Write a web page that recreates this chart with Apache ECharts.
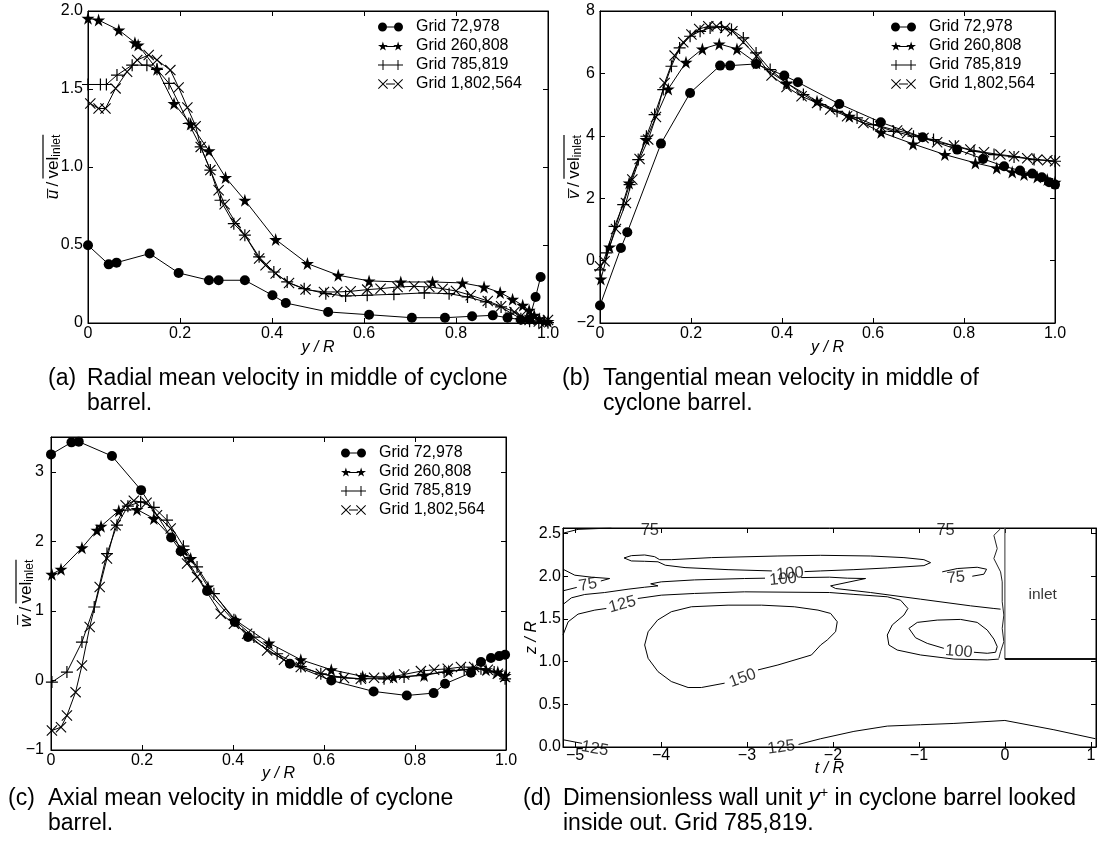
<!DOCTYPE html>
<html>
<head>
<meta charset="utf-8">
<script src="https://cdn.jsdelivr.net/npm/echarts@6/dist/echarts.min.js"></script>
<style>
html, body { margin: 0; background: #fff; }
#chart { width: 1106px; height: 848px; }
</style>
</head>
<body>
<div id="chart"></div>
<script>
// ---- (a) radial mean velocity, [y/R, u/vel]
const aGrid72978 = [[0,0.498],[0.045,0.376],[0.062,0.387],[0.134,0.445],[0.197,0.321],[0.263,0.274],[0.284,0.274],[0.341,0.274],[0.401,0.178],[0.43,0.128],[0.522,0.071],[0.611,0.053],[0.704,0.034],[0.776,0.034],[0.835,0.043],[0.88,0.049],[0.912,0.034],[0.941,0.021],[0.959,0.022],[0.973,0.167],[0.984,0.295]];
const aGrid260808 = [[0,1.953],[0.023,1.942],[0.067,1.878],[0.102,1.797],[0.109,1.782],[0.15,1.626],[0.187,1.407],[0.223,1.275],[0.263,1.104],[0.299,0.933],[0.341,0.787],[0.408,0.535],[0.477,0.381],[0.544,0.306],[0.611,0.27],[0.68,0.263],[0.749,0.263],[0.814,0.257],[0.861,0.231],[0.896,0.195],[0.923,0.152],[0.945,0.113],[0.959,0.081],[0.97,0.049],[0.981,0.028],[0.992,0.012],[1.0,0.01]];
const aGrid785819 = [[0,1.529],[0.027,1.529],[0.04,1.529],[0.063,1.589],[0.096,1.653],[0.128,1.653],[0.15,1.626],[0.176,1.536],[0.219,1.279],[0.245,1.129],[0.266,0.98],[0.288,0.787],[0.317,0.637],[0.341,0.563],[0.372,0.424],[0.404,0.327],[0.433,0.263],[0.47,0.22],[0.517,0.188],[0.56,0.173],[0.607,0.178],[0.665,0.184],[0.731,0.193],[0.785,0.188],[0.825,0.167],[0.865,0.135],[0.898,0.103],[0.919,0.064],[0.941,0.028],[0.96,0.012],[0.98,0.004],[1.0,0.002]];
const aGrid1802564 = [[0.005,1.407],[0.023,1.375],[0.038,1.375],[0.06,1.504],[0.085,1.611],[0.107,1.686],[0.132,1.718],[0.15,1.686],[0.179,1.621],[0.197,1.51],[0.216,1.382],[0.234,1.262],[0.245,1.129],[0.266,0.98],[0.284,0.851],[0.297,0.761],[0.321,0.642],[0.341,0.563],[0.372,0.413],[0.386,0.37],[0.408,0.317],[0.437,0.257],[0.473,0.214],[0.513,0.199],[0.542,0.199],[0.571,0.203],[0.607,0.214],[0.636,0.22],[0.673,0.231],[0.709,0.235],[0.742,0.231],[0.771,0.22],[0.8,0.205],[0.832,0.178],[0.869,0.141],[0.898,0.107],[0.927,0.071],[0.941,0.043],[0.96,0.02],[0.98,0.01],[1.0,0.02]];

// ---- (b) tangential mean velocity
const bGrid72978 = [[0,-1.44],[0.046,0.406],[0.06,0.908],[0.134,3.75],[0.198,5.374],[0.264,6.25],[0.286,6.25],[0.343,6.303],[0.405,5.93],[0.435,5.716],[0.526,5.02],[0.617,4.434],[0.709,3.953],[0.785,3.558],[0.842,3.259],[0.888,3.024],[0.923,2.885],[0.95,2.788],[0.971,2.671],[0.987,2.51],[1.0,2.436]];
const bGrid260808 = [[0.002,-0.588],[0.021,0.438],[0.064,2.489],[0.101,3.878],[0.15,5.502],[0.189,6.357],[0.225,6.784],[0.262,6.944],[0.301,6.784],[0.344,6.33],[0.41,5.694],[0.477,5.107],[0.548,4.626],[0.618,4.113],[0.688,3.739],[0.758,3.397],[0.825,3.13],[0.872,2.97],[0.906,2.842],[0.932,2.756],[0.961,2.682],[0.983,2.596],[1.0,2.511]];
const bGrid785819 = [[0,-0.3],[0.014,0.246],[0.032,1.1],[0.051,1.795],[0.065,2.436],[0.084,3.237],[0.102,3.985],[0.12,4.68],[0.139,5.48],[0.157,6.229],[0.175,6.816],[0.198,7.19],[0.22,7.35],[0.242,7.457],[0.267,7.49],[0.289,7.404],[0.315,7.137],[0.343,6.656],[0.374,6.122],[0.41,5.694],[0.447,5.32],[0.484,5.0],[0.521,4.786],[0.565,4.573],[0.601,4.359],[0.645,4.145],[0.689,3.985],[0.733,3.878],[0.781,3.665],[0.822,3.504],[0.866,3.397],[0.91,3.323],[0.954,3.237],[1.0,3.184]];
const bGrid1802564 = [[0,-0.18],[0.01,-0.02],[0.035,1.015],[0.057,1.848],[0.071,2.596],[0.087,3.259],[0.106,3.878],[0.123,4.605],[0.142,5.694],[0.164,6.57],[0.183,6.998],[0.201,7.244],[0.218,7.425],[0.238,7.51],[0.256,7.51],[0.275,7.457],[0.291,7.35],[0.315,6.998],[0.344,6.549],[0.377,5.93],[0.41,5.566],[0.443,5.267],[0.477,5.053],[0.506,4.84],[0.543,4.626],[0.579,4.412],[0.616,4.306],[0.653,4.167],[0.675,4.092],[0.711,3.932],[0.741,3.793],[0.778,3.686],[0.814,3.558],[0.844,3.472],[0.88,3.397],[0.91,3.344],[0.939,3.28],[0.961,3.237],[0.983,3.216],[1.0,3.184]];

// ---- (c) axial mean velocity
const cGrid72978 = [[0,3.25],[0.045,3.423],[0.061,3.433],[0.134,3.226],[0.198,2.736],[0.264,2.055],[0.285,1.858],[0.343,1.287],[0.404,0.84],[0.433,0.624],[0.525,0.24],[0.616,0.0],[0.709,-0.158],[0.782,-0.216],[0.841,-0.182],[0.866,-0.048],[0.923,0.11],[0.945,0.264],[0.967,0.322],[0.985,0.35],[0.998,0.37]];
const cGrid260808 = [[0.002,1.527],[0.022,1.599],[0.068,1.906],[0.101,2.16],[0.11,2.218],[0.149,2.439],[0.189,2.458],[0.226,2.328],[0.292,1.87],[0.307,1.752],[0.345,1.344],[0.406,0.864],[0.479,0.538],[0.549,0.298],[0.616,0.154],[0.685,0.058],[0.753,0.048],[0.82,0.072],[0.874,0.134],[0.927,0.168],[0.956,0.154],[0.982,0.12],[0.998,0.072]];
const cGrid785819 = [[0.002,-0.024],[0.035,0.12],[0.068,0.552],[0.095,1.056],[0.123,1.824],[0.145,2.232],[0.169,2.506],[0.197,2.568],[0.226,2.487],[0.255,2.304],[0.291,1.93],[0.321,1.632],[0.358,1.248],[0.402,0.874],[0.446,0.624],[0.497,0.384],[0.549,0.2],[0.593,0.096],[0.637,0.048],[0.681,0.024],[0.732,0.024],[0.776,0.048],[0.82,0.086],[0.864,0.12],[0.908,0.154],[0.945,0.168],[0.974,0.12],[0.998,0.024]];
const cGrid1802564 = [[0.002,-0.72],[0.022,-0.672],[0.035,-0.504],[0.054,-0.168],[0.068,0.216],[0.085,0.768],[0.107,1.344],[0.123,1.752],[0.142,2.232],[0.164,2.52],[0.182,2.583],[0.21,2.554],[0.233,2.376],[0.263,2.184],[0.299,1.68],[0.321,1.488],[0.373,0.96],[0.402,0.816],[0.431,0.672],[0.475,0.432],[0.512,0.298],[0.549,0.192],[0.593,0.096],[0.644,0.034],[0.681,0.024],[0.71,0.038],[0.74,0.038],[0.776,0.086],[0.813,0.134],[0.842,0.154],[0.872,0.168],[0.901,0.192],[0.93,0.192],[0.96,0.154],[0.982,0.096],[0.998,0.048]];

// ---- (d) y+ contours, [t/R, z/R]; each array is one drawn stretch of a contour
const y150a = [[-4.19,1.195],[-4.15,1.35],[-4.04,1.487],[-3.88,1.585],[-3.647,1.643],[-3.22,1.662],[-2.83,1.662],[-2.45,1.643],[-2.174,1.604],[-2.027,1.565],[-1.95,1.468],[-1.969,1.351],[-2.066,1.254],[-2.143,1.195],[-2.25,1.078],[-2.64,0.961],[-2.872,0.903]];
const y150b = [[-3.26,0.748],[-3.53,0.697],[-3.685,0.697],[-3.88,0.767],[-4.035,0.883],[-4.15,1.039],[-4.19,1.195]];
const y125a = [[-5.14,1.312],[-5.08,1.467],[-4.965,1.557],[-4.77,1.604],[-4.636,1.623]];
const y125b = [[-4.27,1.74],[-3.997,1.779],[-3.61,1.799],[-3.03,1.818],[-2.04,1.81],[-1.756,1.788],[-1.368,1.76],[-1.213,1.72],[-1.128,1.623],[-1.174,1.546],[-1.31,1.43],[-1.368,1.312],[-1.349,1.195],[-1.252,1.136],[-0.98,1.078],[-0.593,1.03],[-0.205,1.02],[-0.07,1.03]];
const y100a = [[-5.14,1.67],[-5.042,1.748],[-4.887,1.787],[-4.655,1.81],[-4.383,1.849],[-4.19,1.872],[-4.035,1.888],[-4.12,1.912],[-3.997,1.935],[-3.61,1.958],[-3.03,1.974],[-2.79,1.978]];
const y100b = [[-2.37,1.985],[-2.04,1.99],[-1.833,1.978],[-1.62,1.974],[-2.027,1.888],[-1.969,1.857],[-1.562,1.81],[-0.98,1.732],[-0.399,1.654],[-0.128,1.623],[-0.05,1.615]];
const y100c = [[-4.43,2.215],[-4.345,2.242],[-4.19,2.25],[-4.074,2.23],[-4.016,2.195],[-3.88,2.195],[-3.414,2.219],[-2.64,2.238],[-2.143,2.246],[-1.562,2.238],[-1.174,2.219],[-0.942,2.195],[-0.864,2.16],[-0.942,2.125],[-1.368,2.098],[-1.756,2.078],[-2.143,2.063],[-2.33,2.055]];
const y100d = [[-2.71,2.063],[-3.22,2.078],[-3.72,2.102],[-3.95,2.13],[-4.035,2.17],[-4.19,2.176],[-4.345,2.18],[-4.43,2.215]];
const y100e = [[-1.116,1.39],[-1.019,1.46],[-0.787,1.487],[-0.516,1.495],[-0.322,1.46],[-0.205,1.37],[-0.128,1.265],[-0.089,1.176],[-0.108,1.11],[-0.205,1.098],[-0.36,1.11]];
const y100f = [[-0.71,1.156],[-0.903,1.214],[-1.039,1.28],[-1.116,1.39]];
const y75a = [[-5.14,2.083],[-5.003,2.013],[-4.81,1.99],[-4.597,1.974],[-4.62,1.96],[-4.7,1.945]];
const y75b = [[-4.98,1.87],[-5.14,1.83]];
const y75c = [[-5.14,2.505],[-4.965,2.55],[-4.577,2.566]];
const y75d = [[-0.379,2.001],[-0.244,2.025],[-0.213,2.083],[-0.322,2.106],[-0.554,2.091],[-0.729,2.052]];
const y125c = [[-5.14,0.085],[-4.92,0.043]];
const y125d = [[-2.4,0.03],[-2.143,0.097],[-1.756,0.183],[-1.368,0.245],[-0.98,0.261],[-0.593,0.276],[0.0,0.311],[0.57,0.202],[1.054,0.097]];
const wallLine = [[-0.05,2.558],[-0.128,2.48],[-0.089,2.325],[-0.128,2.208],[-0.05,2.052],[-0.031,1.935],[-0.031,1.702],[-0.012,1.546],[-0.031,1.39],[-0.012,1.234],[-0.05,1.117],[-0.07,1.039]];
const inletSide = [[0,2.566],[0,1.03]];
const inletFloor = [[0,1.03],[1.06,1.03]];
const contourLabelAt = [[-4.13,2.535],[-4.85,1.9],[-4.45,1.67],[-2.5,2.03],[-2.58,1.965],[-3.05,0.806],[-0.69,2.535],[-0.57,1.982],[-0.535,1.117],[-4.77,-0.02],[-2.6,-0.005]];
const contourLabelText = ['75','75','125','100','100','150','75','75','100','125','125'];
const contourLabelTilt = [0,10,15,5,5,20,0,5,-5,-10,8];
const inletAt = [[0.44,1.79]];

const seriesNames = ['Grid 72,978', 'Grid 260,808', 'Grid 785,819', 'Grid 1,802,564'];

const FONT = '"Liberation Sans", Arial, Helvetica, sans-serif';
const INK = '#000';
const STAR = 'path://M50,0 L61,35 L98,35 L68,57 L79,91 L50,70 L21,91 L32,57 L2,35 L39,35 Z';
const PLUS = 'path://M45,0 H55 V45 H100 V55 H55 V100 H45 V55 H0 V45 H45 Z';
const CROSS = 'path://M7,0 L50,43 L93,0 L100,7 L57,50 L100,93 L93,100 L50,57 L7,100 L0,93 L43,50 L0,7 Z';
const markers = [['circle', 10], [STAR, 13], [PLUS, 12], [CROSS, 11]];

// legend keys: marker, line, marker
const keyIcons = [
  'path://M0,50 A45,45 0 1,1 90,50 A45,45 0 1,1 0,50 Z M160,50 A45,45 0 1,1 250,50 A45,45 0 1,1 160,50 Z M80,45 H170 V55 H80 Z',
  'path://M50,0 L61,35 L98,35 L68,57 L79,91 L50,70 L21,91 L32,57 L2,35 L39,35 Z M200,0 L211,35 L248,35 L218,57 L229,91 L200,70 L171,91 L182,57 L152,35 L189,35 Z M80,45 H170 V55 H80 Z',
  'path://M0,45 H250 V55 H0 Z M45,0 H55 V100 H45 Z M195,0 H205 V100 H195 Z',
  'path://M7,0 L50,43 L93,0 L100,7 L57,50 L100,93 L93,100 L50,57 L7,100 L0,93 L43,50 L0,7 Z M157,0 L200,43 L243,0 L250,7 L207,50 L250,93 L243,100 L200,57 L157,100 L150,93 L193,50 L150,7 Z M80,45 H170 V55 H80 Z'
];

const minus = v => (v < 0 ? '\u2212' + Math.abs(v) : String(v));
const oneDec = v => (v === 0 ? '0' : v.toFixed(1));

// y-axis titles: letter with overline, then vel_inlet with one bar drawn above it
const measureCtx = document.createElement('canvas').getContext('2d');
function textWidth(str, font) {
  measureCtx.font = font;
  return measureCtx.measureText(str).width;
}
const OL = '\u0305';
const SLASH = '\u2009/\u2009';
const wSlash = textWidth(SLASH, '17px "Liberation Sans"');
const wVel = textWidth('vel', '17px "Liberation Sans"') + textWidth('inlet', '12px "Liberation Sans"');
function velName(sym) {
  return '{gap|}{bar|}\n{i|' + sym + OL + '}{n|' + SLASH + 'vel}{s|inlet}';
}
function velRich(sym) {
  const wSym = textWidth(sym, 'italic 17px "Liberation Sans"');
  return {
    gap: { width: wSym + wSlash, height: 1.2, lineHeight: 2 },
    bar: { width: wVel, height: 1.2, lineHeight: 2, backgroundColor: INK },
    i: { fontFamily: FONT, fontSize: 17, lineHeight: 19, fontStyle: 'italic', color: INK },
    n: { fontFamily: FONT, fontSize: 17, lineHeight: 19, color: INK },
    s: { fontFamily: FONT, fontSize: 12, lineHeight: 8, verticalAlign: 'bottom', color: INK }
  };
}

const grids = [
  { left: 88, top: 11, width: 460, height: 312 },
  { left: 600, top: 11, width: 455, height: 312 },
  { left: 51, top: 437, width: 455, height: 313 },
  { left: 563, top: 528, width: 533, height: 219 }
];

const tick = { show: true, inside: true, length: 5, lineStyle: { color: INK, width: 1 } };
const line = { show: true, onZero: false, lineStyle: { color: INK, width: 1 } };
const labelStyle = { color: INK, fontFamily: FONT, fontSize: 16 };

const xAxis = [];
const yAxis = [];
function addAxes(g, xr, xt, xf, xName, xGap, xMargin, yr, yt, yf, yName, yRich, yGap, yMargin) {
  xAxis.push({
    type: 'value', gridIndex: g, position: 'bottom', min: xr[0], max: xr[1],
    axisLine: line, splitLine: { show: false },
    axisTick: Object.assign({ customValues: xt }, tick),
    axisLabel: Object.assign({ customValues: xt, formatter: xf, margin: xMargin }, labelStyle),
    name: xName, nameLocation: 'middle', nameGap: xGap, nameMoveOverlap: false,
    nameTextStyle: { color: INK, fontFamily: FONT, fontSize: 16, fontStyle: 'italic' }
  });
  xAxis.push({
    type: 'value', gridIndex: g, position: 'top', min: xr[0], max: xr[1],
    axisLine: line, splitLine: { show: false },
    axisTick: Object.assign({ customValues: xt }, tick),
    axisLabel: { show: false }
  });
  yAxis.push({
    type: 'value', gridIndex: g, position: 'left', min: yr[0], max: yr[1],
    axisLine: line, splitLine: { show: false },
    axisTick: Object.assign({ customValues: yt }, tick),
    axisLabel: Object.assign({ customValues: yt, formatter: yf, margin: yMargin }, labelStyle),
    name: yName, nameLocation: 'middle', nameGap: yGap, nameRotate: 90, nameMoveOverlap: false,
    nameTextStyle: { color: INK, fontFamily: FONT, fontSize: 16, fontStyle: yRich ? 'normal' : 'italic', rich: yRich || {} }
  });
  yAxis.push({
    type: 'value', gridIndex: g, position: 'right', min: yr[0], max: yr[1],
    axisLine: line, splitLine: { show: false },
    axisTick: Object.assign({ customValues: yt }, tick),
    axisLabel: { show: false }
  });
}

const xTicks = [0, 0.2, 0.4, 0.6, 0.8, 1.0];
addAxes(0, [0, 1], xTicks, oneDec, 'y / R', 17, 3, [0, 2], [0, 0.5, 1, 1.5, 2], oneDec, velName('u'), velRich('u'), 25, 5);
addAxes(1, [0, 1], xTicks, oneDec, 'y / R', 17, 3, [-2, 8], [-2, 0, 2, 4, 6, 8], minus, velName('v'), velRich('v'), 16, 5);
addAxes(2, [0, 1], xTicks, oneDec, 'y / R', 16, 3, [-1, 3.5], [-1, 0, 1, 2, 3], minus, velName('w'), velRich('w'), 15, 7);
addAxes(3, [-5.14, 1.06], [-5, -4, -3, -2, -1, 0, 1], minus, 't / R', 14, 1, [0, 2.566], [0, 0.5, 1, 1.5, 2, 2.5], v => v.toFixed(1), 'z / R', null, 23, 2);

const series = [];
function addCurves(g, sets) {
  sets.forEach((data, k) => {
    series.push({
      type: 'line', name: seriesNames[k], data: data,
      xAxisIndex: g * 2, yAxisIndex: g * 2,
      symbol: markers[k][0], symbolSize: markers[k][1], showAllSymbol: true,
      lineStyle: { color: INK, width: 1 },
      itemStyle: { color: INK },
      emphasis: { disabled: true }
    });
  });
}
addCurves(0, [aGrid72978, aGrid260808, aGrid785819, aGrid1802564]);
addCurves(1, [bGrid72978, bGrid260808, bGrid785819, bGrid1802564]);
addCurves(2, [cGrid72978, cGrid260808, cGrid785819, cGrid1802564]);

function addContour(data, color, width) {
  series.push({
    type: 'line', data: data, xAxisIndex: 6, yAxisIndex: 6,
    symbol: 'none', lineStyle: { color: color, width: width }, silent: true
  });
}
[y150a, y150b, y125a, y125b, y100a, y100b, y100c, y100d, y100e, y100f,
 y75a, y75b, y75c, y75d, y125c, y125d].forEach(d => addContour(d, INK, 1));
addContour(wallLine, '#222', 1);
addContour(inletSide, '#555', 1.2);
addContour(inletFloor, '#111', 2);

series.push({
  type: 'scatter', xAxisIndex: 6, yAxisIndex: 6, symbolSize: 0, clip: false, silent: true,
  data: contourLabelAt.map((p, k) => ({
    value: p,
    label: { formatter: contourLabelText[k], rotate: contourLabelTilt[k] }
  })),
  label: { show: true, position: 'inside', color: INK, fontFamily: FONT, fontSize: 16.5 }
});
series.push({
  type: 'scatter', xAxisIndex: 6, yAxisIndex: 6, symbolSize: 0, silent: true,
  data: inletAt,
  label: { show: true, position: 'inside', formatter: 'inlet', color: INK, fontFamily: FONT, fontSize: 15.5 }
});

function legendAt(left, top) {
  return {
    left: left, top: top, orient: 'vertical', padding: 0,
    itemWidth: 25, itemHeight: 10, itemGap: 1, selectedMode: false,
    data: seriesNames.map((n, k) => ({ name: n, icon: keyIcons[k] })),
    textStyle: { color: INK, fontFamily: FONT, fontSize: 16, lineHeight: 18, padding: [0, 0, 0, 8] }
  };
}

const capStyle = { color: INK, fontFamily: FONT, fontSize: 23, fontWeight: 'normal', lineHeight: 25 };
function caption(left, top, text, rich) {
  return {
    left: left, top: top, padding: 0, text: text,
    textStyle: Object.assign({ rich: rich || {} }, capStyle)
  };
}
const capRich = {
  it: { fontFamily: FONT, fontSize: 23, fontStyle: 'italic', color: INK },
  sup: { fontFamily: FONT, fontSize: 14, lineHeight: 14, verticalAlign: 'top', color: INK }
};

const option = {
  animation: false,
  backgroundColor: '#fff',
  grid: grids.map(g => Object.assign({ show: true, borderColor: INK, borderWidth: 1, containLabel: false }, g)),
  xAxis: xAxis,
  yAxis: yAxis,
  legend: [legendAt(378, 18), legendAt(891, 18), legendAt(341, 444)],
  title: [
    caption(48, 366, '(a)'),
    caption(87, 366, 'Radial mean velocity in middle of cyclone\nbarrel.'),
    caption(562, 366, '(b)'),
    caption(603, 366, 'Tangential mean velocity in middle of\ncyclone barrel.'),
    caption(8, 786, '(c)'),
    caption(48, 786, 'Axial mean velocity in middle of cyclone\nbarrel.'),
    caption(523, 786, '(d)'),
    caption(563, 786, 'Dimensionless wall unit {it|y}{sup|+} in cyclone barrel looked\ninside out. Grid 785,819.', capRich)
  ],
  series: series
};

const chart = echarts.init(document.getElementById('chart'));
chart.setOption(option);
</script>
</body>
</html>
